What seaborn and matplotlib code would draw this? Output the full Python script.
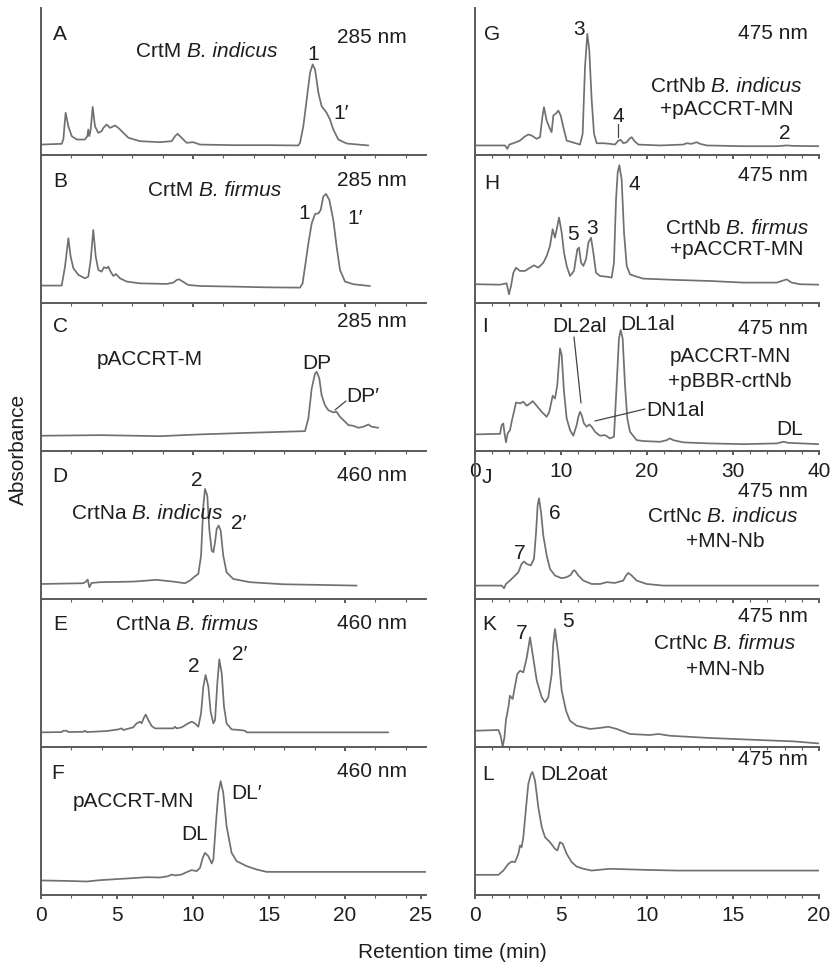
import matplotlib
matplotlib.use("Agg")
import matplotlib.pyplot as plt
import seaborn as sns
from matplotlib.ticker import MultipleLocator
from matplotlib.lines import Line2D

# ---------------- data (retention time in min, relative absorbance) ----------------
A_t = [0, 1.36, 1.47, 1.62, 1.80, 2.02, 2.35, 2.89, 3.05, 3.11, 3.18, 3.27, 3.40, 3.55, 3.77, 3.99, 4.10, 4.32, 4.54, 4.87,
       5.09, 5.42, 5.75, 6.51, 7.83, 8.60, 8.82, 8.99, 9.25, 9.58, 10.02, 10.46, 12.65, 14.85, 16.93, 17.04, 17.26, 17.48, 17.70, 17.87,
       18.03, 18.25, 18.46, 18.79, 19.01, 19.23, 19.56, 20.11, 20.88, 21.54]
A_y = [.074, .079, .108, .289, .198, .131, .108, .108, .131, .176, .131, .176, .329, .198, .153, .165, .187, .210, .187, .203,
       .187, .153, .120, .097, .090, .097, .131, .147, .120, .086, .090, .074, .070, .070, .068, .086, .198, .379, .559, .616,
       .582, .424, .334, .289, .244, .176, .108, .081, .074, .068]

B_t = [0.04, 1.36, 1.58, 1.80, 1.95, 2.13, 2.46, 2.89, 3.11, 3.27, 3.44, 3.60, 3.77, 3.99, 4.14, 4.32, 4.43, 4.58, 4.76, 4.93,
       5.20, 5.64, 6.51, 8.27, 8.71, 8.93, 9.10, 9.32, 9.69, 10.46, 12.65, 14.85, 17.04, 17.21, 17.37, 17.59, 17.81, 18.03, 18.25, 18.40,
       18.57, 18.75, 18.97, 19.23, 19.45, 19.67, 20.00, 20.55, 21.64]
B_y = [.120, .120, .248, .440, .316, .237, .192, .169, .180, .293, .496, .316, .226, .214, .244, .237, .248, .214, .185, .198,
       .169, .147, .135, .131, .140, .158, .162, .147, .124, .117, .113, .108, .106, .135, .248, .406, .541, .604, .609, .631,
       .722, .740, .699, .564, .383, .226, .147, .129, .117]

C_t = [0.04, 3.88, 7.83, 10.46, 13.75, 17.37, 17.59, 17.81, 18.03, 18.14, 18.31, 18.46, 18.68, 18.90, 19.23, 19.45, 19.67,
       19.89, 20.22, 20.55, 20.88, 21.21, 21.54, 21.75, 22.19]
C_y = [.104, .108, .101, .113, .124, .135, .221, .424, .525, .537, .492, .379, .311, .277, .262, .266, .232,
       .210, .176, .171, .158, .165, .180, .165, .158]

D_t = [0.04, 2.79, 2.96, 3.07, 3.18, 3.33, 3.88, 6.07, 7.61, 8.71, 9.47, 9.80, 10.13, 10.35, 10.53, 10.68, 10.79, 10.94, 11.07, 11.23,
       11.34, 11.45, 11.56, 11.69, 11.82, 11.99, 12.21, 12.65, 13.75, 15.94, 18.14, 20.77]
D_y = [.101, .106, .117, .131, .079, .108, .113, .117, .129, .117, .106, .124, .153, .169, .293, .631, .744, .699, .474, .327,
       .316, .383, .474, .496, .462, .293, .180, .135, .113, .099, .095, .090]

E_t = [0.04, 1.36, 1.47, 1.69, 1.80, 2.79, 2.89, 3.00, 4.32, 5.09, 5.31, 5.42, 6.07, 6.29, 6.51, 6.62, 6.78, 6.89, 7.06, 7.28,
       7.50, 8.71, 8.82, 8.93, 9.25, 9.69, 9.91, 10.13, 10.35, 10.53, 10.68, 10.83, 11.01, 11.16, 11.34, 11.45, 11.60, 11.73, 11.89, 12.04,
       12.21, 12.54, 13.09, 13.42, 13.53, 14.85, 22.85]
E_y = [.097, .099, .108, .108, .099, .101, .108, .099, .106, .117, .124, .113, .131, .158, .169, .158, .198, .217, .180, .140,
       .124, .124, .135, .124, .131, .158, .169, .158, .135, .226, .406, .485, .406, .237, .158, .180, .429, .591, .496, .271,
       .158, .117, .113, .108, .097, .097, .097]

F_t = [0.04, 1.69, 3.00, 3.88, 6.07, 6.95, 7.83, 8.38, 8.60, 8.82, 9.25, 9.58, 9.91, 10.24, 10.46, 10.64, 10.79, 11.01, 11.23, 11.34,
       11.51, 11.67, 11.82, 11.99, 12.21, 12.54, 12.87, 13.53, 14.19, 14.85, 25.3]
F_y = [.095, .092, .088, .097, .111, .117, .115, .124, .135, .129, .135, .151, .165, .158, .180, .248, .282, .259, .210, .237,
       .485, .688, .767, .688, .462, .282, .226, .192, .169, .153, .153]

G_t = [0, 3.49, 3.76, 3.99, 4.46, 5.23, 5.81, 6.20, 6.59, 7.17, 7.56, 7.83, 8.02, 8.33, 8.72, 8.91, 9.11, 9.38, 9.69, 9.96,
       10.27, 10.66, 12.21, 12.52, 12.79, 13.06, 13.29, 13.57, 13.84, 14.15, 14.92, 15.70, 16.28, 16.67, 16.94, 17.25, 17.64, 17.95, 18.22, 18.49,
       18.99, 21.51, 24.22, 24.61, 25.19, 25.78, 26.16, 26.94, 31.20, 35.08, 36.24, 37.02, 40.0]
G_y = [.068, .068, .045, .074, .083, .101, .129, .142, .135, .113, .124, .259, .327, .237, .180, .158, .271, .282, .304, .271,
       .192, .101, .074, .147, .598, .823, .710, .372, .147, .083, .083, .079, .074, .101, .106, .083, .090, .113, .124, .101,
       .074, .068, .074, .083, .079, .090, .079, .068, .063, .063, .068, .065, .063]

H_t = [0, 2.91, 3.68, 3.95, 4.19, 4.46, 4.77, 5.23, 5.81, 6.40, 6.86, 7.36, 7.95, 8.33, 8.72, 9.03, 9.30, 9.50, 9.77, 10.08,
       10.35, 10.66, 11.05, 11.51, 11.90, 12.09, 12.33, 12.60, 12.91, 13.18, 13.49, 13.76, 14.07, 14.53, 15.31, 15.89, 16.16, 16.40, 16.59, 16.78,
       17.05, 17.33, 17.64, 18.02, 18.80, 19.57, 23.45, 27.33, 31.20, 35.08, 35.66, 36.24, 36.82, 37.79, 40.0]
H_y = [.129, .126, .135, .061, .117, .207, .241, .219, .219, .241, .257, .241, .275, .320, .388, .501, .444, .501, .580, .478,
       .343, .253, .185, .219, .365, .377, .275, .253, .298, .410, .444, .343, .207, .185, .180, .174, .275, .704, .884, .934,
       .839, .478, .253, .196, .180, .167, .158, .151, .140, .140, .151, .162, .140, .129, .126]

I_t = [0, 2.91, 3.10, 3.29, 3.41, 3.60, 3.80, 4.07, 4.26, 4.53, 4.77, 5.23, 5.62, 6.01, 6.40, 6.71, 7.17, 7.75, 8.33, 8.64,
       9.03, 9.30, 9.57, 9.88, 10.08, 10.35, 10.66, 11.05, 11.43, 11.82, 12.02, 12.21, 12.40, 12.67, 12.98, 13.29, 13.57, 13.95, 14.53, 15.12,
       15.70, 16.16, 16.47, 16.74, 16.94, 17.17, 17.44, 17.71, 18.02, 18.80, 19.57, 21.51, 22.29, 22.67, 23.06, 24.22, 27.33, 31.20, 35.08, 35.85,
       36.43, 40.0]
I_y = [.113, .117, .176, .187, .131, .059, .120, .142, .198, .266, .329, .323, .334, .307, .323, .338, .307, .266, .232, .266,
       .374, .356, .447, .695, .650, .401, .221, .142, .104, .176, .232, .266, .244, .187, .165, .180, .165, .131, .104, .108,
       .086, .097, .447, .762, .819, .762, .447, .221, .131, .074, .068, .063, .074, .086, .074, .059, .052, .047, .052, .063,
       .056, .047]

J_t = [0, 1.55, 1.69, 1.80, 2.03, 2.33, 2.52, 2.71, 2.85, 3.00, 3.24, 3.43, 3.55, 3.64, 3.72, 3.84, 3.97, 4.17, 4.36, 4.65,
       5.04, 5.33, 5.56, 5.72, 5.81, 6.01, 6.30, 6.78, 7.27, 7.66, 8.14, 8.62, 8.78, 8.91, 9.11, 9.40, 9.98, 10.95, 13.66, 20.0]
J_y = [.090, .090, .072, .101, .124, .158, .180, .237, .253, .237, .226, .271, .451, .631, .681, .586, .429, .293, .203, .158,
       .140, .147, .162, .192, .192, .158, .124, .101, .101, .113, .108, .124, .158, .176, .158, .124, .101, .090, .090, .090]

K_t = [0, 1.36, 1.49, 1.61, 1.71, 1.80, 1.94, 2.03, 2.19, 2.33, 2.46, 2.62, 2.81, 3.01, 3.14, 3.20, 3.35, 3.59, 3.88, 4.07,
       4.26, 4.46, 4.55, 4.65, 4.84, 5.04, 5.29, 5.52, 5.91, 6.69, 7.27, 7.75, 8.24, 9.01, 10.17, 10.66, 11.34, 13.66, 16.57, 18.51,
       20.0]
K_y = [.108, .113, .074, .0, .063, .181, .266, .345, .323, .413, .492, .514, .503, .604, .695, .740, .627, .447, .334, .300,
       .334, .492, .695, .796, .627, .379, .244, .176, .142, .120, .127, .135, .120, .086, .079, .086, .074, .059, .045, .036,
       .022]

L_t = [0, 1.36, 1.65, 1.94, 2.13, 2.33, 2.52, 2.62, 2.71, 2.81, 2.97, 3.10, 3.26, 3.35, 3.49, 3.68, 3.88, 4.07, 4.36, 4.65,
       4.79, 4.94, 5.10, 5.33, 5.62, 5.91, 6.30, 6.78, 7.85, 9.79, 11.72, 13.66, 15.60, 17.54, 19.19, 20.0]
L_y = [.133, .133, .162, .207, .223, .219, .275, .332, .320, .388, .591, .749, .816, .828, .771, .591, .456, .388, .354, .309,
       .298, .354, .343, .275, .219, .189, .174, .162, .174, .167, .162, .162, .162, .162, .162, .162]

left_ticklabels = [0, 5, 10, 15, 20, 25]
i_ticklabels = [0, 10, 20, 30, 40]
l_ticklabels = [0, 5, 10, 15, 20]

# ---------------- style ----------------
sns.set_style("ticks")
plt.rcParams['font.family'] = ['Liberation Sans', 'DejaVu Sans']

W, H = 831, 963
fig = plt.figure(figsize=(W / 100, H / 100), dpi=100)
TXT = '#1e1e1e'
LINE = '#707070'
SPINE = '#5a5a5a'
FS = 15

def fx(px):
    return px / W

def fy(py):
    return 1 - py / H

ROW_H = 147.8
def row_bottom(r):
    return 155.5 + ROW_H * r

panels = [
    ('A', A_t, A_y, 0, 0), ('B', B_t, B_y, 0, 1), ('C', C_t, C_y, 0, 2),
    ('D', D_t, D_y, 0, 3), ('E', E_t, E_y, 0, 4), ('F', F_t, F_y, 0, 5),
    ('G', G_t, G_y, 1, 0), ('H', H_t, H_y, 1, 1), ('I', I_t, I_y, 1, 2),
    ('J', J_t, J_y, 2, 3), ('K', K_t, K_y, 2, 4), ('L', L_t, L_y, 2, 5),
]

for name, t, y, col, row in panels:
    if col == 0:
        x0, xmax, scale = 41, 25.3, 15.2
    elif col == 1:
        x0, xmax, scale = 475, 40.0, 8.6
    else:
        x0, xmax, scale = 475, 20.0, 17.2
    b = row_bottom(row)
    ax = fig.add_axes([fx(x0), fy(b), (xmax * scale) / W, ROW_H / H])
    ax.set_facecolor('none')
    sns.lineplot(x=t, y=y, ax=ax, color=LINE, linewidth=1.25, estimator=None,
                 sort=False, legend=False)
    ax.set_xlim(0, xmax)
    ax.set_ylim(0, 1)
    ax.set_xlabel('')
    ax.set_ylabel('')
    ax.set_yticks([])
    for s in ('top', 'right'):
        ax.spines[s].set_visible(False)
    for s in ('left', 'bottom'):
        ax.spines[s].set_color(SPINE)
        ax.spines[s].set_linewidth(1.4)
    if col == 0:
        major, minor = (5, 2) if name == 'F' else (10, 2)
    elif col == 1:
        major, minor = 10, 2
    else:
        major, minor = 5, 1
    ax.xaxis.set_major_locator(MultipleLocator(major))
    ax.xaxis.set_minor_locator(MultipleLocator(minor))
    ax.tick_params(axis='x', which='major', direction='out', length=3, width=1.4,
                   colors=SPINE, labelcolor=TXT, labelsize=FS, pad=5)
    ax.tick_params(axis='x', which='minor', direction='out', length=2.2, width=0.8,
                   colors=SPINE)
    if name == 'F':
        ax.set_xticks(left_ticklabels)
        ax.set_xticklabels([str(v) for v in left_ticklabels])
    elif name == 'I':
        ax.set_xticks(i_ticklabels)
        ax.set_xticklabels([str(v) for v in i_ticklabels])
    elif name == 'L':
        ax.set_xticks(l_ticklabels)
        ax.set_xticklabels([str(v) for v in l_ticklabels])
    else:
        ax.tick_params(axis='x', labelbottom=False)

# ---------------- annotations ----------------
renderer = fig.canvas.get_renderer()

def lab(px, py, s, ha='center', size=FS, style='normal'):
    return fig.text(fx(px), fy(py + 7.4), s, ha=ha, va='baseline', fontsize=size,
                    color=TXT, style=style)

def text_width(s, style='normal'):
    t = fig.text(0, 0, s, fontsize=FS, style=style)
    w = t.get_window_extent(renderer).width
    t.remove()
    return w

SPACE_W = text_width('a a') - text_width('aa')

def sp(cx, cy, gene, species):
    italic = 'B. ' + species
    w1 = text_width(gene)
    w2 = text_width(italic, 'italic')
    total = w1 + SPACE_W + w2
    x_start = cx - total / 2
    lab(x_start, cy, gene, ha='left')
    lab(x_start + w1 + SPACE_W, cy, italic, ha='left', style='italic')

def lead(x1, y1, x2, y2):
    fig.add_artist(Line2D([fx(x1), fx(x2)], [fy(y1), fy(y2)], transform=fig.transFigure,
                          color='#444444', linewidth=0.9))

# left column
lab(60, 33, 'A'); sp(207, 50, 'CrtM', 'indicus'); lab(313, 53, '1'); lab(341, 112, '1′')
lab(407, 36, '285 nm', ha='right')
lab(60, 180, 'B'); sp(215, 189, 'CrtM', 'firmus'); lab(304, 212, '1'); lab(355, 217, '1′')
lab(407, 179, '285 nm', ha='right')
lab(60, 325, 'C'); lab(407, 320, '285 nm', ha='right'); lab(150, 358, 'pACCRT-M')
lab(317, 362, 'DP'); lab(363, 395, 'DP′'); lead(335, 410, 346, 401)
lab(60, 475, 'D'); lab(407, 474, '460 nm', ha='right'); lab(197, 479, '2')
sp(147, 512, 'CrtNa', 'indicus'); lab(239, 522, '2′')
lab(60, 623, 'E'); sp(187, 623, 'CrtNa', 'firmus'); lab(407, 622, '460 nm', ha='right')
lab(194, 665, '2'); lab(240, 653, '2′')
lab(58, 772, 'F'); lab(407, 770, '460 nm', ha='right'); lab(133, 800, 'pACCRT-MN')
lab(195, 833, 'DL'); lab(247, 792, 'DL′')

# right column
lab(492, 33, 'G'); lab(808, 32, '475 nm', ha='right'); lab(579, 28, '3')
sp(726, 85, 'CrtNb', 'indicus'); lab(727, 108, '+pACCRT-MN')
lab(618, 115, '4'); lead(618, 124, 618, 137); lab(785, 132, '2')
lab(492, 182, 'H'); lab(808, 174, '475 nm', ha='right'); lab(634, 183, '4')
lab(573, 233, '5'); lab(592, 227, '3')
sp(737, 227, 'CrtNb', 'firmus'); lab(737, 248, '+pACCRT-MN')
lab(485, 325, 'I'); lab(580, 325, 'DL2al'); lab(648, 323, 'DL1al'); lab(808, 327, '475 nm', ha='right')
lead(574, 337, 581, 403)
lab(730, 355, 'pACCRT-MN'); lab(730, 380, '+pBBR-crtNb')
lab(646, 409, 'DN1al', ha='left'); lead(595, 421, 645, 409)
lab(790, 428, 'DL')
lab(487, 476, 'J'); lab(808, 490, '475 nm', ha='right'); lab(555, 512, '6'); lab(520, 552, '7')
sp(723, 515, 'CrtNc', 'indicus'); lab(725, 540, '+MN-Nb')
lab(489, 623, 'K'); lab(522, 632, '7'); lab(568, 620, '5'); lab(808, 615, '475 nm', ha='right')
sp(725, 642, 'CrtNc', 'firmus'); lab(725, 668, '+MN-Nb')
lab(488, 773, 'L'); lab(540, 773, 'DL2oat', ha='left'); lab(808, 758, '475 nm', ha='right')

fig.text(fx(18), fy(449), 'Absorbance', rotation=90, ha='center', va='center', fontsize=FS, color=TXT)
fig.text(fx(452), fy(952), 'Retention time (min)', ha='center', va='center', fontsize=FS, color=TXT)

fig.savefig('out.png', dpi=100, facecolor='white')
